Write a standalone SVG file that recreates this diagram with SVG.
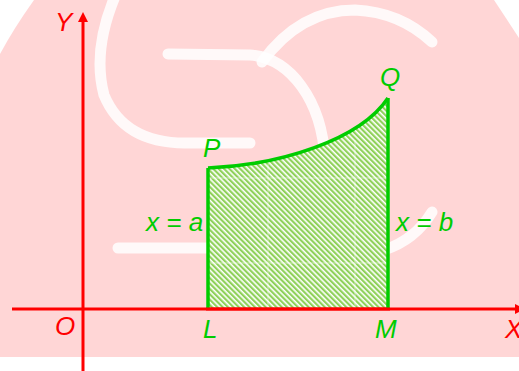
<svg xmlns="http://www.w3.org/2000/svg" width="519" height="371" viewBox="0 0 519 371">
  <defs>
    <pattern id="hatch" patternUnits="userSpaceOnUse" width="3.8" height="10" patternTransform="rotate(-45)">
      <rect x="0" y="0" width="3.8" height="10" fill="#ffffff"/>
      <rect x="0" y="0" width="2.2" height="10" fill="#8fd15a"/>
    </pattern>
    <marker id="arrow" viewBox="0 0 10 10" refX="0" refY="5" markerWidth="10" markerHeight="10" markerUnits="userSpaceOnUse" orient="auto">
      <path d="M0,0 L10,5 L0,10 Z" fill="#ff0000"/>
    </marker>
  </defs>
  <style>
    .wm { fill: none; stroke: #ffffff; stroke-width: 11; stroke-linecap: round; opacity: 0.85; }
    .axis { stroke: #ff0000; stroke-width: 3; fill: none; }
    .edge { stroke: #00cc00; stroke-width: 3.5; fill: none; stroke-linejoin: round; }
    .lblR { font-family: "Liberation Sans", Arial, sans-serif; font-style: italic; font-size: 26px; fill: #ff0000; }
    .lblG { font-family: "Liberation Sans", Arial, sans-serif; font-style: italic; font-size: 26px; fill: #00cc00; }
  </style>

  <!-- background watermark -->
  <g id="background">
    <rect x="0" y="0" width="519" height="371" fill="#ffffff"/>
    <path d="M34,0 L494,0 L519,38 L519,357 L0,357 L0,54 Q14,28 34,0 Z" fill="#ffd6d6"/>
    <path class="wm" d="M116,-6 Q92,50 104,95 Q124,143 185,143 L250,143"/>
    <path class="wm" d="M168,54 L250,55 C290,58 322,100 325,160"/>
    <path class="wm" d="M262,62 Q300,10 355,10 Q400,12 432,42"/>
    <path class="wm" d="M118,248 L215,248"/>
    <path class="wm" d="M384,250 Q415,240 432,212"/>
  </g>

  <!-- shaded region -->
  <g id="region">
    <path d="M208,168 C280,165 360,140 388,98 L388,309 L208,309 Z" fill="url(#hatch)"/>
    <g stroke="#ffffff" stroke-width="1.5" opacity="0.35">
      <line x1="268" y1="164" x2="268" y2="309"/>
      <line x1="355" y1="140" x2="355" y2="309"/>
      <line x1="208" y1="178" x2="388" y2="178"/>
      <line x1="208" y1="263" x2="388" y2="263"/>
    </g>
  </g>

  <!-- axes / connectors -->
  <g id="connectors">
    <line class="axis" x1="83" y1="371" x2="83" y2="22" marker-end="url(#arrow)"/>
    <line class="axis" x1="12" y1="309" x2="515" y2="309" marker-end="url(#arrow)"/>
    <path id="curve-PQ" class="edge" d="M208,168 C280,165 360,140 388,98"/>
    <line id="line-PL" class="edge" x1="208" y1="168" x2="208" y2="309"/>
    <line id="line-QM" class="edge" x1="388" y1="98" x2="388" y2="309"/>
    <line class="axis" x1="206" y1="309" x2="390" y2="309"/>
  </g>

  <g id="node-Y"><text class="lblR" x="55" y="31">Y</text></g>
  <g id="node-O"><text class="lblR" x="55" y="335">O</text></g>
  <g id="node-X"><text class="lblR" x="505" y="338">X</text></g>
  <g id="node-L"><text class="lblG" x="203" y="338">L</text></g>
  <g id="node-M"><text class="lblG" x="375" y="338">M</text></g>
  <g id="node-P"><text class="lblG" x="203" y="157">P</text></g>
  <g id="node-Q"><text class="lblG" x="380" y="86">Q</text></g>
  <g id="label-a"><text class="lblG" x="146" y="231">x = a</text></g>
  <g id="label-b"><text class="lblG" x="396" y="231">x = b</text></g>
</svg>
